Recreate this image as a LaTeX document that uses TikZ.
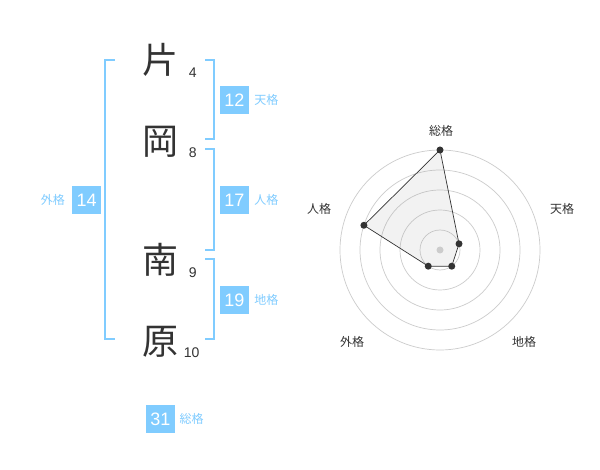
\documentclass[tikz,border=0pt]{standalone}
\usepackage{fontspec}
\setmainfont{Liberation Sans}
\newfontfamily\jp{Noto Sans CJK JP}
\pgfdeclarelayer{edgelayer}
\pgfdeclarelayer{nodelayer}
\pgfsetlayers{main,edgelayer,nodelayer}
\definecolor{sky}{RGB}{128,204,255}
\definecolor{ink}{RGB}{51,51,51}
\tikzstyle{none}=[inner sep=0pt]
\tikzstyle{kanji}=[inner sep=0pt,text=ink,font=\jp\fontsize{36}{36}\selectfont]
\tikzstyle{strokes}=[inner sep=0pt,text=ink,font=\fontsize{14}{14}\selectfont]
\tikzstyle{score}=[fill=sky,text=white,minimum width=29pt,minimum height=28pt,inner sep=0pt,font=\fontsize{18}{18}\selectfont]
\tikzstyle{kaku}=[inner sep=0pt,text=sky,font=\jp\fontsize{12}{12}\selectfont]
\tikzstyle{axis}=[inner sep=0pt,text=ink,font=\jp\fontsize{12}{12}\selectfont]
\tikzstyle{bracket}=[draw=sky,line width=2pt]
\tikzstyle{ring}=[draw=black!20,line width=0.7pt]
\tikzstyle{circ}=[circle,fill=ink,inner sep=0pt,minimum size=7pt]

\begin{document}
\begin{tikzpicture}[x=1pt,y=-1pt]
	\useasboundingbox[fill=white] (0,0) rectangle (600,470);
	\begin{pgfonlayer}{nodelayer}
		% name
		\node [style=kanji] (k1) at (160, 60) {片};
		\node [style=kanji] (k2) at (160, 141.7) {岡};
		\node [style=kanji] (k3) at (160, 260) {南};
		\node [style=kanji] (k4) at (160, 341.7) {原};
		\node [style=strokes] (s1) at (192.7, 72.7) {4};
		\node [style=strokes] (s2) at (192.7, 152.7) {8};
		\node [style=strokes] (s3) at (192.7, 272.7) {9};
		\node [style=strokes] (s4) at (191.7, 352.7) {10};
		% scores
		\node [style=score] (ten) at (234.5, 100) {12};
		\node [style=kaku] at (266.3, 100) {天格};
		\node [style=score] (jin) at (234.5, 200) {17};
		\node [style=kaku] at (266.3, 200) {人格};
		\node [style=score] (chi) at (234.5, 300) {19};
		\node [style=kaku] at (266.3, 300) {地格};
		\node [style=score] (gai) at (86.7, 200) {14};
		\node [style=kaku] at (52.8, 200) {外格};
		\node [style=score] (sou) at (160.5, 419) {31};
		\node [style=kaku] at (191.5, 419) {総格};
		% bracket corners
		\node [style=none] (0) at (115, 60) {};
		\node [style=none] (1) at (105, 60) {};
		\node [style=none] (2) at (105, 339) {};
		\node [style=none] (3) at (115, 339) {};
		\node [style=none] (4) at (205, 60) {};
		\node [style=none] (5) at (214, 60) {};
		\node [style=none] (6) at (214, 139) {};
		\node [style=none] (7) at (205, 139) {};
		\node [style=none] (8) at (205, 149) {};
		\node [style=none] (9) at (214, 149) {};
		\node [style=none] (10) at (214, 250) {};
		\node [style=none] (11) at (205, 250) {};
		\node [style=none] (12) at (205, 259) {};
		\node [style=none] (13) at (214, 259) {};
		\node [style=none] (14) at (214, 339) {};
		\node [style=none] (15) at (205, 339) {};
		% radar
		\node [style=axis] at (441, 130.5) {総格};
		\node [style=axis] at (562, 208.5) {天格};
		\node [style=axis] at (524, 342) {地格};
		\node [style=axis] at (352, 342) {外格};
		\node [style=axis] at (319, 208.5) {人格};
		\begin{scope}[shift={(440,250)},y=1pt]
			\node [style=none] (c) at (0, 0) {};
			\node [style=circ] (p1) at (90:100) {};
			\node [style=circ] (p2) at (18:20) {};
			\node [style=circ] (p3) at (-54:20) {};
			\node [style=circ] (p4) at (-126:20) {};
			\node [style=circ] (p5) at (162:80) {};
		\end{scope}
	\end{pgfonlayer}
	\begin{pgfonlayer}{edgelayer}
		\draw[style=bracket] (0.center) to (1.center) to (2.center) to (3.center);
		\draw[style=bracket] (4.center) to (5.center) to (6.center) to (7.center);
		\draw[style=bracket] (8.center) to (9.center) to (10.center) to (11.center);
		\draw[style=bracket] (12.center) to (13.center) to (14.center) to (15.center);
		\foreach \r in {20,40,...,100}
			\draw[style=ring] (c.center) circle (\r);
		\fill[black!40, opacity=0.12] (p1.center) -- (p2.center) -- (p3.center) -- (p4.center) -- (p5.center) -- cycle;
		\draw[ink, line width=0.7pt] (p1.center) -- (p2.center) -- (p3.center) -- (p4.center) -- (p5.center) -- cycle;
		\fill[black!20] (c.center) circle (3.5);
	\end{pgfonlayer}
\end{tikzpicture}
\end{document}
